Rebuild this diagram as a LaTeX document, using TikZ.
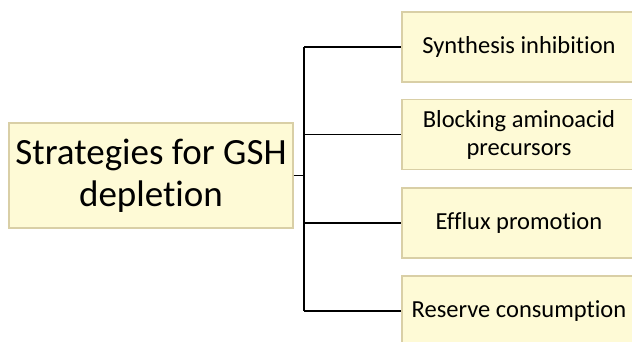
\documentclass[tikz,border=0pt]{standalone}
\usepackage{fontspec}
\setmainfont[Ligatures={NoCommon}]{Carlito}
\definecolor{boxfill}{HTML}{FEFAD6}
\definecolor{boxedge}{HTML}{D9CFA6}
\tikzset{
  catbox/.style={draw=boxedge, line width=1.2pt, fill=boxfill, inner sep=0pt,
    align=center, text=black},
  rootbox/.style={catbox, minimum width=284pt, minimum height=105pt,
    font=\fontsize{37}{42}\selectfont},
  leafbox/.style={catbox, minimum width=234pt, minimum height=70pt,
    font=\fontsize{24.5}{28}\selectfont},
  link/.style={draw=black, line width=1.5pt}
}
\begin{document}
\begin{tikzpicture}[x=1pt, y=-1pt]
  \useasboundingbox (0,0) rectangle (632,342);
  \clip (0,0) rectangle (632,342);
  \fill[white] (0,0) rectangle (632,342);

  % root box and the four strategies
  \node[rootbox] (root) at (151,175.5) {Strategies for GSH\\depletion};
  \node[leafbox] (s1) at (519,47)    {Synthesis inhibition};
  \node[leafbox] (s2) at (519,134.5) {Blocking aminoacid\\precursors};
  \node[leafbox] (s3) at (519,223)   {Efflux promotion};
  \node[leafbox] (s4) at (519,311)   {Reserve consumption};

  % bracket connector
  \coordinate (trunk) at (304,175.5);
  \draw[link] (root.east) -- (trunk);
  \draw[link] (s1.west -| trunk) -- (s4.west -| trunk);
  \foreach \s in {s1,s2,s3,s4}
    \draw[link] (\s.west -| trunk) -- (\s.west);
\end{tikzpicture}
\end{document}
